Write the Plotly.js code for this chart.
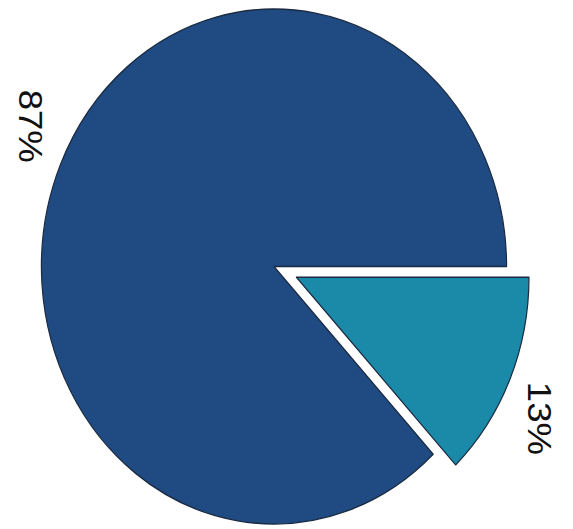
<!DOCTYPE html>
<html>
<head>
<meta charset="utf-8">
<script src="https://cdn.plot.ly/plotly-3.0.1.min.js"></script>
<style>
html,body{margin:0;padding:0;background:#fff;overflow:hidden;width:573px;height:529px;}
#wrap{position:relative;width:573px;height:529px;overflow:hidden;}
#chart{position:absolute;left:0;top:-17.8px;width:573px;height:514px;transform:scaleY(1.107);transform-origin:0 0;}
</style>
</head>
<body>
<div id="wrap"><div id="chart"></div></div>
<script>
// Data
var labels = ["Segment B", "Segment A"];
var values = [13, 87];
var textLabels = ["13%", "87%"];
var colors = ["#1b8aa9", "#1f4b82"];
var pulls = [0.105, 0];

var W = 573, H = 514;
var r = 233.5;
var maxPull = Math.max.apply(null, pulls);
var D = r * (2 + 2 * maxPull);
var cx = 274, cy = H / 2; // pixels from left/top (pre-transform)
var domX = [(cx - D / 2) / W, (cx + D / 2) / W];
var domY = [Math.max(0, 1 - (cy + D / 2) / H), Math.min(1, 1 - (cy - D / 2) / H)];

// label positions computed from slice mid-angles (clockwise from 3 o'clock)
var total = values.reduce(function (a, b) { return a + b; }, 0);
var labelShift = 4 * Math.PI / 180;
var annotations = [];
var start = 0;
for (var i = 0; i < values.length; i++) {
  var frac = values[i] / total;
  var mid = (start + frac / 2) * 2 * Math.PI + labelShift; // clockwise from east
  var dist = r * 1.175 + pulls[i] * r;
  var px = cx + dist * Math.cos(mid);
  var py = cy + dist * Math.sin(mid);
  annotations.push({
    text: textLabels[i], xref: "paper", yref: "paper",
    x: px / W, y: 1 - py / H, showarrow: false, textangle: 90,
    xanchor: "center", yanchor: "middle",
    font: {family: "Liberation Sans, Arial, sans-serif", size: 33, color: "#111"}
  });
  start += frac;
}

var trace = {
  type: "pie",
  labels: labels,
  values: values,
  sort: false,
  direction: "clockwise",
  rotation: 90,
  pull: pulls,
  textinfo: "none",
  hoverinfo: "label+percent",
  marker: {colors: colors, line: {color: "#1a2a40", width: 1.2}},
  domain: {x: domX, y: domY},
  showlegend: false
};

Plotly.newPlot("chart", [trace], {
  width: W, height: H,
  margin: {l: 0, r: 0, t: 0, b: 0},
  paper_bgcolor: "rgba(0,0,0,0)",
  showlegend: false,
  annotations: annotations
}, {displayModeBar: false, staticPlot: true});
</script>
</body>
</html>
